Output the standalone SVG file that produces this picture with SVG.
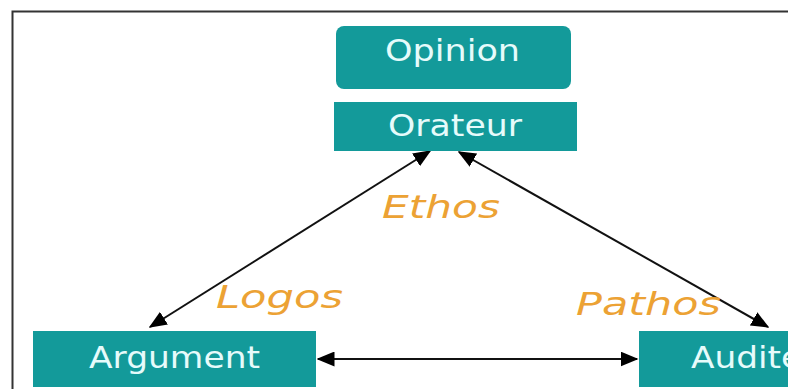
<svg xmlns="http://www.w3.org/2000/svg" width="788" height="389" viewBox="0 0 788 389">
<defs>
<style>
.box{fill:#139a9a}
.bt{font-family:"DejaVu Sans",Verdana,sans-serif;font-size:30px;fill:#e6fbfb}
.lbl{font-family:"DejaVu Sans",Verdana,sans-serif;font-size:32px;font-style:italic;fill:#eca234}
.ln{stroke:#111;stroke-width:2;fill:none;marker-start:url(#ah);marker-end:url(#ah)}
</style>
<marker id="ah" viewBox="0 0 12 10" refX="11" refY="5" markerWidth="9" markerHeight="7.5" orient="auto-start-reverse" markerUnits="strokeWidth">
<path d="M0,0 L12,5 L0,10 Z" fill="#000"/>
</marker>
</defs>
<rect width="788" height="389" fill="#fff"/>
<path d="M12.5,392 V11.5 H792" fill="none" stroke="#333" stroke-width="2"/>
<g id="connectors">
<line class="ln" x1="150" y1="327" x2="430" y2="151"/>
<line class="ln" x1="459" y1="152" x2="768" y2="327"/>
<line class="ln" x1="318" y1="359" x2="637" y2="359"/>
</g>
<g id="opinion">
<rect class="box" x="336" y="26" width="235" height="63" rx="8"/>
<text class="bt" x="385" y="61" textLength="135" lengthAdjust="spacingAndGlyphs">Opinion</text>
</g>
<g id="orateur">
<rect class="box" x="334" y="102" width="243" height="49"/>
<text class="bt" x="388" y="136" textLength="134" lengthAdjust="spacingAndGlyphs">Orateur</text>
</g>
<g id="argument">
<rect class="box" x="33" y="331" width="283" height="56"/>
<text class="bt" x="89" y="368" textLength="171" lengthAdjust="spacingAndGlyphs">Argument</text>
</g>
<g id="auditeur">
<rect class="box" x="639" y="331" width="160" height="56"/>
<text class="bt" x="691" y="368" textLength="147" lengthAdjust="spacingAndGlyphs">Auditeur</text>
</g>
<g id="labels">
<text class="lbl" x="382" y="218" textLength="118" lengthAdjust="spacingAndGlyphs">Ethos</text>
<text class="lbl" x="216" y="308" textLength="127" lengthAdjust="spacingAndGlyphs">Logos</text>
<text class="lbl" x="576" y="315" textLength="145" lengthAdjust="spacingAndGlyphs">Pathos</text>
</g>
</svg>
